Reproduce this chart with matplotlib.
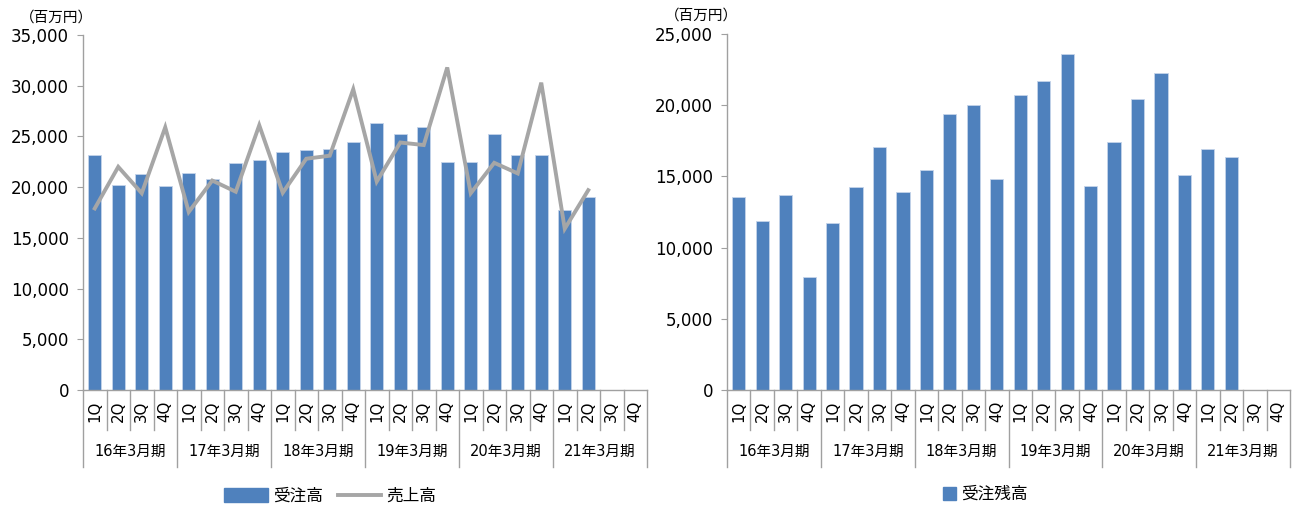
import numpy as np
import matplotlib
matplotlib.use("Agg")
import matplotlib.pyplot as plt
from matplotlib.patches import Patch
from matplotlib.lines import Line2D

plt.rcParams['font.family'] = ['DejaVu Sans', 'Noto Sans CJK JP']

# categories: 6 fiscal years x 4 quarters
years = ["16年3月期", "17年3月期", "18年3月期", "19年3月期", "20年3月期", "21年3月期"]
quarters = ["1Q", "2Q", "3Q", "4Q"]

# 受注高 (orders), 売上高 (sales), 受注残高 (backlog) -- 百万円
orders = [23150, 20200, 21250, 20150, 21350, 20850, 22400, 22700,
          23450, 23700, 23750, 24450, 26350, 25250, 25950, 22500,
          22500, 25250, 23200, 23150, 17700, 19050]
sales = [17900, 22000, 19400, 25900, 17550, 20650, 19550, 26100,
         19450, 22800, 23100, 29650, 20550, 24400, 24150, 31800,
         19400, 22400, 21350, 30300, 15900, 19700]
backlog = [13580, 11850, 13660, 7920, 11740, 14230, 17070, 13870,
           15450, 19370, 20000, 14810, 20750, 21710, 23570, 14300,
           17440, 20420, 22280, 15090, 16920, 16360]

BLUE = "#4F81BD"
GRAY_LINE = "#A6A6A6"
AXIS = "#A0A0A0"

W, H = 1295, 505
fig = plt.figure(figsize=(W / 100, H / 100), dpi=100)


def px_axes(x0, x1, y0, y1):
    return fig.add_axes([x0 / W, 1 - y1 / H, (x1 - x0) / W, (y1 - y0) / H])


def setup(ax, ymax, step, y_top_px):
    n = len(years) * len(quarters)
    ax.set_xlim(-0.5, n - 0.5)
    ax.set_ylim(0, ymax)
    ax.set_yticks(np.arange(0, ymax + 1, step))
    ax.yaxis.set_major_formatter(matplotlib.ticker.FuncFormatter(lambda v, p: f"{int(v):,}"))
    ax.tick_params(axis="y", labelsize=12, length=4, color=AXIS, pad=6)
    ax.set_xticks([])
    for s in ["top", "right"]:
        ax.spines[s].set_visible(False)
    for s in ["left", "bottom"]:
        ax.spines[s].set_color(AXIS)
        ax.spines[s].set_linewidth(1.0)
    # axis height in pixels
    hpx = 390 - y_top_px
    tr = ax.get_xaxis_transform()
    for i in range(n + 1):
        bottom = -77 / hpx if i % 4 == 0 else -40 / hpx
        ax.plot([i - 0.5, i - 0.5], [0, bottom], transform=tr, color=AXIS,
                lw=1.0, clip_on=False)
    for i in range(n):
        ax.text(i, -11 / hpx, quarters[i % 4], transform=tr, rotation=90,
                ha="center", va="top", fontsize=10.8)
    for j, y in enumerate(years):
        ax.text(j * 4 + 1.5, -61 / hpx, y, transform=tr, ha="center",
                va="center", fontsize=10.5)


# left: orders and sales
ax1 = px_axes(83, 647, 35, 390)
x = np.arange(len(orders))
ax1.bar(x, orders, width=0.56, color=BLUE, edgecolor="#C5D4EA", linewidth=0.6, zorder=2)
ax1.plot(np.arange(len(sales)), sales, color=GRAY_LINE, lw=2.8, zorder=3,
         solid_joinstyle="miter")
setup(ax1, 35000, 5000, 35)
fig.text(20 / W, 1 - 18 / H, "（百万円）", fontsize=10.5, ha="left", va="center",
         family=['Noto Sans CJK JP'])
ax1.legend(handles=[Patch(color=BLUE, label="受注高"),
                    Line2D([], [], color=GRAY_LINE, lw=2.8, label="売上高")],
           loc="center", bbox_to_anchor=(330 / W, 1 - 496 / H),
           bbox_transform=fig.transFigure, ncol=2, frameon=False,
           fontsize=12, handlelength=2.6, handleheight=0.9, columnspacing=0.9,
           handletextpad=0.3)

# right: backlog
ax2 = px_axes(727, 1290, 34, 390)
ax2.bar(np.arange(len(backlog)), backlog, width=0.56, color=BLUE,
        edgecolor="#C5D4EA", linewidth=0.6, zorder=2)
setup(ax2, 25000, 5000, 34)
fig.text(665 / W, 1 - 16 / H, "（百万円）", fontsize=10.5, ha="left", va="center",
         family=['Noto Sans CJK JP'])
ax2.legend(handles=[Patch(color=BLUE, label="受注残高")],
           loc="center", bbox_to_anchor=(985 / W, 1 - 494 / H),
           bbox_transform=fig.transFigure, frameon=False, fontsize=12,
           handlelength=0.8, handleheight=0.8, handletextpad=0.3)

fig.savefig("out.png", dpi=100)
